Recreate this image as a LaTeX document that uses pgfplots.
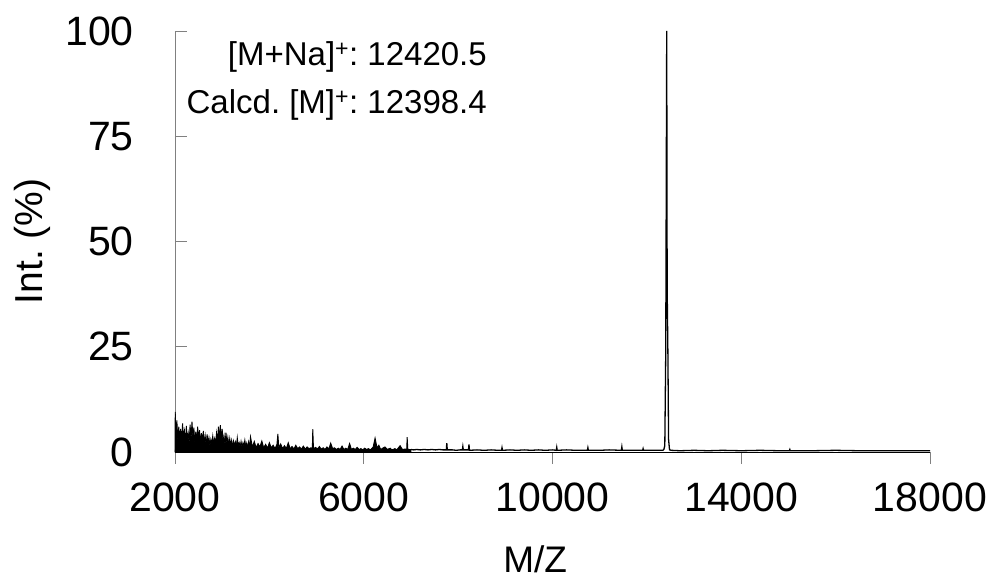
\documentclass[border=0pt]{standalone}
\usepackage{pgfplots}
\pgfplotsset{compat=1.18}
\usepackage{pgfplotstable}
\usepackage{fontspec}
\setmainfont{Liberation Sans}
\frenchspacing

% low-mass noise region (drawn filled down to the baseline)
\pgfplotstableread{
mz int
2000 0.5
2005 9.5
2020 4.0
2040 7.5
2060 2.5
2080 6.0
2100 3.0
2120 5.5
2140 2.0
2160 6.8
2180 3.5
2200 5.0
2220 1.8
2240 6.2
2260 3.0
2280 4.5
2300 2.2
2320 6.5
2340 2.8
2360 7.2
2380 3.5
2400 5.8
2420 2.0
2440 4.8
2460 2.5
2480 6.0
2500 3.0
2520 5.2
2540 1.8
2560 4.5
2580 2.5
2600 5.0
2620 2.0
2640 3.8
2660 1.5
2680 4.2
2700 2.2
2720 3.4
2740 1.5
2760 3.0
2780 2.0
2800 3.8
2820 1.8
2840 3.2
2860 2.2
2880 4.5
2900 2.5
2920 6.0
2940 2.8
2960 6.4
2980 3.0
3000 5.5
3020 2.0
3040 3.8
3060 1.5
3080 4.6
3100 2.0
3120 3.5
3140 1.5
3160 3.2
3180 1.6
3200 2.8
3220 1.2
3240 2.6
3260 1.5
3280 2.4
3300 1.2
3320 3.4
3340 1.5
3360 2.2
3380 1.2
3400 2.5
3420 1.1
3440 2.2
3460 1.4
3480 2.8
3500 1.2
3520 2.1
3540 1.0
3560 2.4
3580 1.2
3600 3.6
3640 1.2
3680 2.5
3720 1.0
3760 2.0
3800 1.2
3840 2.6
3880 1.0
3920 1.8
3960 0.9
4000 2.2
4040 1.0
4080 1.6
4120 0.8
4160 1.8
4180 4.3
4200 1.0
4240 1.9
4280 0.8
4320 1.5
4360 0.8
4400 2.2
4440 0.8
4480 1.3
4520 0.7
4560 1.6
4600 0.8
4640 1.2
4680 0.7
4720 1.4
4760 0.7
4800 1.2
4840 0.8
4880 1.0
4910 0.8
4920 5.4
4935 0.8
4980 1.1
5020 0.7
5060 1.3
5100 0.7
5140 1.0
5180 0.6
5220 1.2
5260 0.7
5300 2.1
5340 0.8
5380 1.0
5420 0.6
5460 0.9
5500 0.6
5540 1.4
5580 0.6
5620 0.9
5660 0.6
5700 2.0
5740 0.6
5780 0.9
5820 0.6
5860 1.1
5900 0.6
5940 0.8
5980 0.5
6020 0.9
6060 0.6
6100 0.8
6140 0.5
6200 1.2
6240 3.3
6260 2.2
6280 1.0
6320 1.6
6360 0.6
6400 0.9
6450 1.2
6500 0.6
6560 0.9
6600 0.5
6660 0.8
6700 0.5
6770 1.5
6820 0.6
6880 0.7
6910 0.6
6920 3.5
6935 0.6
7000 0.6
}\noise

% remainder of the spectrum, including the molecular ion peak
\pgfplotstableread{
mz int
7000 0.6
7060 0.5
7120 0.6
7200 0.5
7280 0.6
7360 0.5
7440 0.6
7520 0.5
7600 0.6
7680 0.5
7750 0.5
7760 2.1
7770 0.5
7880 0.5
7960 0.4
8040 0.5
8090 0.5
8100 1.3
8110 0.5
8220 0.5
8230 1.8
8240 0.4
8400 0.5
8550 0.4
8700 0.5
8850 0.4
8920 0.4
8930 1.0
8940 0.4
9100 0.5
9250 0.4
9400 0.5
9550 0.4
9700 0.5
9850 0.4
10000 0.5
10080 0.4
10090 1.1
10100 0.4
10300 0.5
10500 0.4
10740 0.4
10750 1.0
10760 0.4
11000 0.4
11200 0.5
11460 0.4
11470 1.2
11480 0.4
11700 0.4
11910 0.4
11920 0.8
11930 0.4
12100 0.4
12250 0.4
12340 0.4
12360 0.6
12380 1.5
12400 24
12420.5 100
12430 39
12445 24
12460 3
12480 0.5
12520 0.4
12700 0.3
13000 0.4
13300 0.3
13600 0.4
14000 0.3
14400 0.4
14800 0.3
15020 0.3
15030 0.6
15040 0.3
15500 0.3
16000 0.4
16500 0.3
17000 0.3
17500 0.3
18000 0.3
}\rest

\begin{document}
\begin{tikzpicture}
\useasboundingbox (0,0) rectangle (989pt,583pt);
\begin{axis}[
  at={(175pt,131pt)}, anchor=south west,
  scale only axis, width=755pt, height=421pt,
  xmin=2000, xmax=18000, ymin=0, ymax=100,
  xtick={2000,6000,10000,14000,18000},
  ytick={0,25,50,75,100},
  axis x line=bottom, axis y line=left,
  x axis line style={-, black},
  y axis line style={-, gray},
  tick style={gray, line width=0.8pt},
  major tick length=12pt,
  xtick align=outside, ytick align=inside,
  scaled x ticks=false,
  /pgf/number format/1000 sep={},
  /pgf/number format/assume math mode=true,
  tick label style={font=\fontsize{41}{48}\selectfont, inner sep=0pt},
  xticklabel style={anchor=center, yshift=-33pt},
  yticklabel style={anchor=east, xshift=-41pt},
  xlabel={M/Z},
  ylabel={Int. (\%)},
  every axis x label/.style={at={(axis description cs:0.477,-0.255)}, anchor=center,
    font=\fontsize{37}{44}\selectfont},
  every axis y label/.style={at={(axis description cs:-0.189,0.5)}, anchor=center, rotate=90,
    font=\fontsize{39}{46}\selectfont},
  clip=false,
]
\addplot[black, line width=0.9pt, fill=black] table[x=mz, y=int] {\noise} \closedcycle;
\addplot[black, line width=1.3pt] table[x=mz, y=int] {\rest};
\node[anchor=east, inner sep=0pt, font=\fontsize{33}{40}\selectfont] at (axis cs:8612,93.8) {[M+Na]\textsuperscript{+}: 12420.5};
\node[anchor=east, inner sep=0pt, font=\fontsize{33}{40}\selectfont] at (axis cs:8612,82.4) {Calcd. [M]\textsuperscript{+}: 12398.4};
\end{axis}
\end{tikzpicture}
\end{document}
